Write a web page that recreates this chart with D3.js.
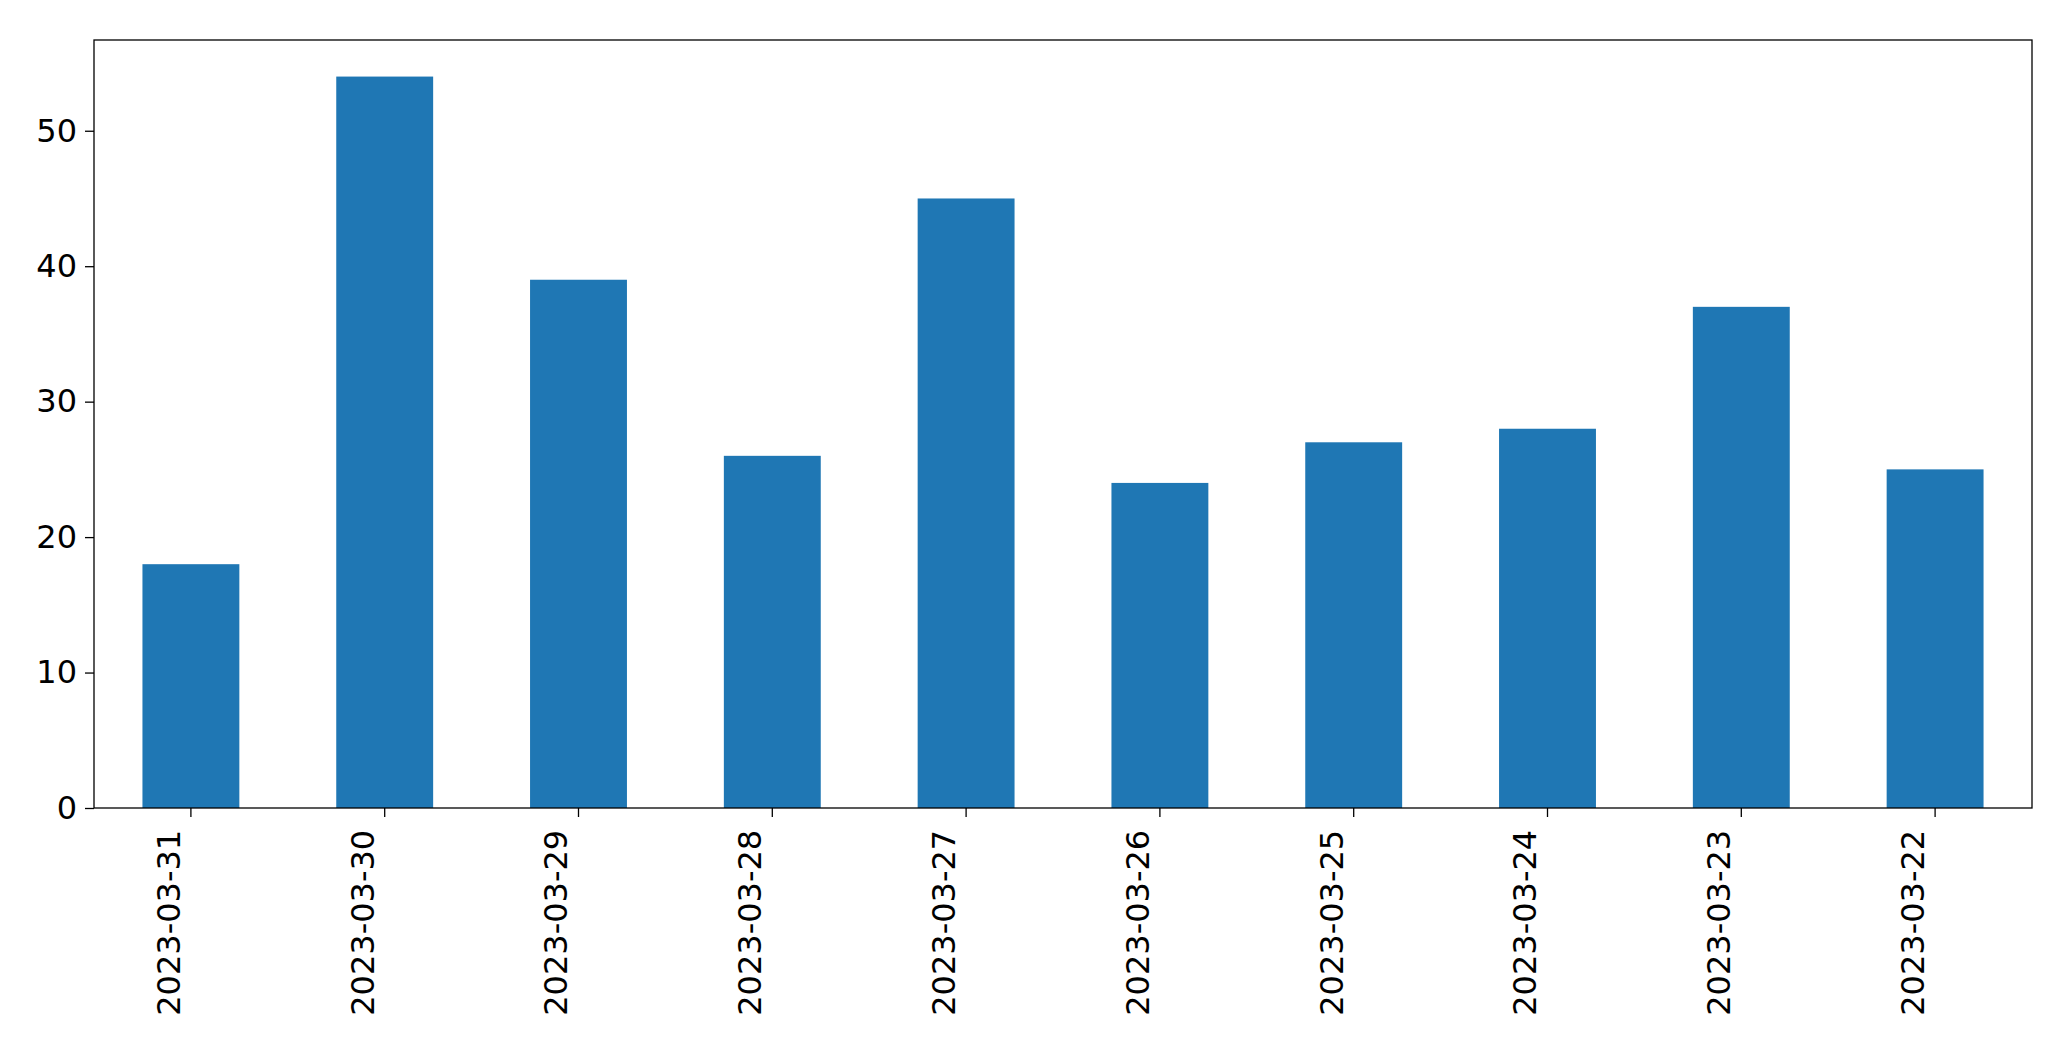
<!DOCTYPE html>
<html><head><meta charset="utf-8">
<script src="https://cdn.jsdelivr.net/npm/d3@7"></script>
<style>body{margin:0;background:#fff}svg{display:block}text{font-family:"DejaVu Sans",sans-serif}</style>
</head><body>
<script>
const categories = ["2023-03-31","2023-03-30","2023-03-29","2023-03-28","2023-03-27","2023-03-26","2023-03-25","2023-03-24","2023-03-23","2023-03-22"];
const values = [18,54,39,26,45,24,27,28,37,25];
const yTicks = [0,10,20,30,40,50];

const W=2071,H=1061,m={l:94,r:39,t:40,b:253};
const svg=d3.select("body").append("svg").attr("width",W).attr("height",H);
const x=d3.scaleBand().domain(categories).range([m.l,W-m.r]).paddingInner(0.5).paddingOuter(0.25);
const y=d3.scaleLinear().domain([0,d3.max(values)*1.05]).range([H-m.b,m.t]);
svg.selectAll("rect.bar").data(values).join("rect").attr("class","bar")
  .attr("x",(d,i)=>x(categories[i])).attr("width",x.bandwidth())
  .attr("y",d=>y(d)).attr("height",d=>y(0)-y(d)).attr("fill","#1f77b4");
const fs="32px";
const xa=svg.append("g").attr("transform",`translate(0,${H-m.b})`).call(d3.axisBottom(x).tickSize(9).tickPadding(8));
xa.selectAll("text").attr("font-size",fs).attr("fill","#000").attr("transform","rotate(-90)").attr("text-anchor","end").attr("dx","-0.4em").attr("dy","-0.35em").attr("x",-9).attr("y",0);
const ya=svg.append("g").attr("transform",`translate(${m.l},0)`).call(d3.axisLeft(y).tickValues(yTicks).tickSize(9).tickPadding(8));
ya.selectAll("text").attr("font-size",fs).attr("fill","#000");
svg.selectAll(".domain").remove();
svg.selectAll(".tick line").attr("stroke","#000").attr("stroke-width",1.3);
svg.append("rect").attr("x",m.l).attr("y",m.t).attr("width",W-m.l-m.r).attr("height",H-m.t-m.b).attr("fill","none").attr("stroke","#000").attr("stroke-width",1.3);
</script>
</body></html>
